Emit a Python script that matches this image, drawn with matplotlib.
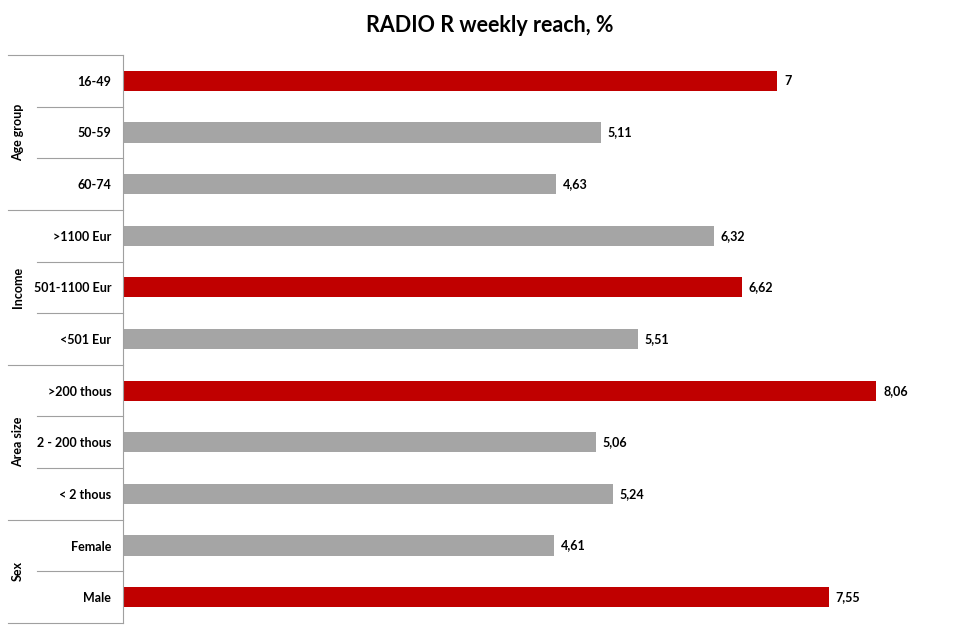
import matplotlib.pyplot as plt
import matplotlib.transforms as transforms

# Chart data, top row first.
categories = ['16-49', '50-59', '60-74',
              '>1100 Eur', '501-1100 Eur', '<501 Eur',
              '>200 thous', '2 - 200 thous', '< 2 thous',
              'Female', 'Male']
values = [7, 5.11, 4.63, 6.32, 6.62, 5.51, 8.06, 5.06, 5.24, 4.61, 7.55]
highlight = [True, False, False, False, True, False, True, False, False, False, True]
groups = ['Age group', 'Income', 'Area size', 'Sex']
group_sizes = [3, 3, 3, 2]

red = '#C00000'
grey = '#A5A5A5'
line_color = '#A0A0A0'
plt.rcParams['font.family'] = ['Lato', 'DejaVu Sans']

figure, axes = plt.subplots(figsize=(9.79, 6.41), dpi=100)
axes.set_position([123 / 979, 18 / 641, 841 / 979, 568 / 641])

positions = list(range(len(categories)))
colors = [red if h else grey for h in highlight]
axes.barh(positions, values, height=0.39, color=colors)
axes.set_xlim(0, 9)
axes.set_ylim(len(categories) - 0.5, -0.5)

# Data labels with a decimal comma.
for y, v in zip(positions, values):
    text = ('%g' % v).replace('.', ',')
    axes.annotate(text, (v, y), xytext=(5, 0), textcoords='offset points',
                  va='center', ha='left', fontsize=9, fontweight='bold')

# Axis styling.
for side in ['top', 'right', 'bottom']:
    axes.spines[side].set_visible(False)
axes.spines['left'].set_color(line_color)
axes.set_xticks([])
axes.set_yticks(positions)
axes.set_yticklabels(categories, fontsize=9, fontweight='bold')
axes.tick_params(axis='y', length=0, pad=8.5)

# Multi-level category lines and group labels.
blend = transforms.blended_transform_factory(axes.transAxes, axes.transData)
outer_x = (8 - 123) / 841
inner_x = (37 - 123) / 841
label_x = (18 - 123) / 841
start = 0
axes.plot([outer_x, 0], [-0.5, -0.5], color=line_color, linewidth=0.8,
          transform=blend, clip_on=False)
for name, size in zip(groups, group_sizes):
    for k in range(1, size):
        y = start + k - 0.5
        axes.plot([inner_x, 0], [y, y], color=line_color, linewidth=0.8,
                  transform=blend, clip_on=False)
    end = start + size - 0.5
    axes.plot([outer_x, 0], [end, end], color=line_color, linewidth=0.8,
              transform=blend, clip_on=False)
    axes.text(label_x, start + (size - 1) / 2, name, rotation=90, ha='center',
              va='center', fontsize=9, fontweight='bold', transform=blend)
    start += size

figure.text(0.5, 0.96, 'RADIO R weekly reach, %', ha='center', va='center',
            fontsize=15.5, fontweight='bold')

plt.savefig('out.png')
